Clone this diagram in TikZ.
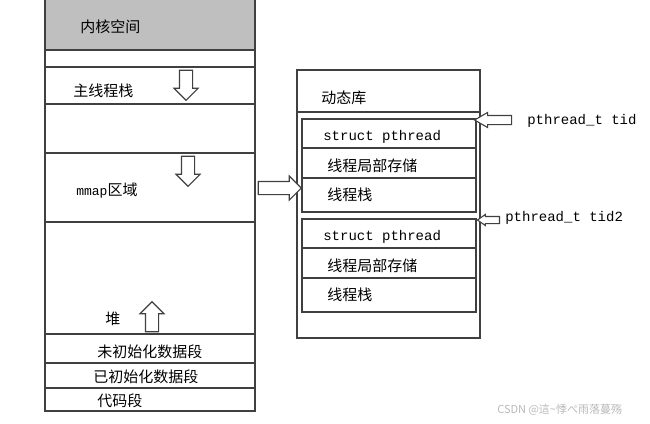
\documentclass[tikz,border=0pt]{standalone}
\usepackage{fontspec}
\newfontfamily\cjk{Noto Sans CJK SC}
\setmonofont{Liberation Mono}
\usepackage{xcolor}
\usepackage{tikz}
\usetikzlibrary{shapes.arrows}
\usetikzlibrary{positioning}

\begin{document}
\begin{tikzpicture}[x=1pt,y=-1pt,line width=1.1pt,semithick]
	\tikzstyle{lbl}=[font=\cjk\fontsize{15}{16}\selectfont, inner sep=0pt, anchor=west]
	\tikzstyle{code}=[font=\ttfamily\fontsize{14}{14}\selectfont, inner sep=0pt, anchor=west]
	\tikzstyle{hollow}=[single arrow, draw=black!75, fill=white, line width=1.1pt, inner xsep=0pt, inner ysep=6pt, single arrow head extend=5.5pt, minimum height=30pt, minimum width=0pt]
	\tikzstyle{line}=[draw=black!75, line width=1.1pt]
	\useasboundingbox (0,0) rectangle (650,423);
	\fill[gray!50] (45,0) rectangle (255,50);
	\path[line] (45,0) -- (45,411) -- (255,411) -- (255,0);
	\foreach \y in {50,67,104,153,222,334,363,388}
		\path[line] (45,\y) -- (255,\y);
	\path[line] (297,70) rectangle (480,338);
	\path[line] (297,112) -- (480,112);
	\path[line] (302,119) rectangle (476,212);
	\path[line] (302,219) rectangle (476,312);
	\foreach \y in {148,178,248,278}
		\path[line] (302,\y) -- (476,\y);
	\node[lbl] (kernel) at (80,27) {内核空间};
	\node[lbl] (mainstack) at (73,91) {主线程栈};
	\node[lbl] (mmap) at (76,191) {{\ttfamily\fontsize{13}{13}\selectfont mmap}区域};
	\node[lbl] (heap) at (105,319) {堆};
	\node[lbl] (bss) at (97,352) {未初始化数据段};
	\node[lbl] (data) at (93,377) {已初始化数据段};
	\node[lbl] (text) at (97,401) {代码段};
	\node[lbl] (lib) at (321,98) {动态库};
	\node[code] (pth) at (323,137) {struct pthread};
	\node[lbl] (tls) at (327,166) {线程局部存储};
	\node[lbl] (tstack) at (327,195) {线程栈};
	\node[code] (pthb) at (323,237) {struct pthread};
	\node[lbl] (tlsb) at (327,266) {线程局部存储};
	\node[lbl] (tstackb) at (327,295) {线程栈};
	\node[code] (tid) at (527,121) {pthread\_t tid};
	\node[code] (tidb) at (505,218) {pthread\_t tid2};
	\node[hollow, rotate=-90] (grow) at (186,82) {};
	\node[hollow, rotate=-90] (growb) at (188,168) {};
	\node[hollow, rotate=90] (heapup) at (152,320) {};
	\node[hollow, minimum height=43pt] (maparrow) at (276.5,188) {};
	\node[hollow, rotate=180, inner ysep=4pt, single arrow head extend=3pt, single arrow tip angle=60, minimum height=37pt] (tidarrow) at (497,120) {};
	\node[hollow, rotate=180, inner ysep=3pt, single arrow head extend=2pt, single arrow tip angle=70, minimum height=22pt] (tidbarrow) at (491,220) {};
	\node[font=\cjk\fontsize{11}{11}\selectfont, text=gray!55, inner sep=0pt, anchor=west] (mark) at (497,410) {CSDN @這\textasciitilde 悸ぺ雨落蔓殇};
\end{tikzpicture}
\end{document}
